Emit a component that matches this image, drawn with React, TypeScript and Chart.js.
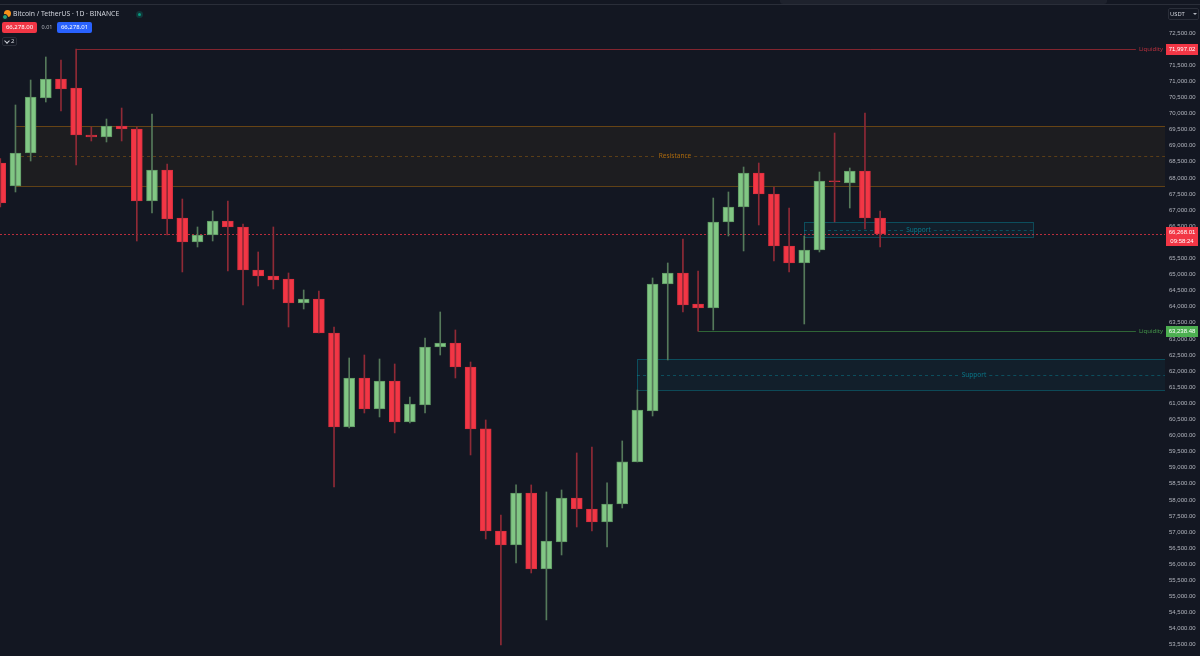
import React, { useEffect, useRef } from 'react';
import { Chart, registerables } from 'chart.js';

Chart.register(...registerables);

// ---- Candle data (BTC/USDT, 1D) ----
const opens = [
  68462, 67748, 68773, 70481, 71071, 70792, 69332, 69270, 69612, 69518,
  67282, 68245, 66754, 66009, 66226, 66661, 66475, 65140, 64953, 64860,
  64115, 64239, 63183, 60264, 61785, 60822, 61692, 60419, 60946, 62748,
  62873, 62127, 60202, 57033, 56598, 58214, 55853, 56691, 58058, 57717,
  57313, 57872, 59177, 60760, 64705, 65046, 64083, 63959, 66630, 67096,
  68152, 67500, 65885, 65357, 65761, 67910, 67841, 68214, 66754,
];
const highs = [
  68600, 70264, 71040, 71755, 71661, 71997.02, 69580, 69829, 70170, 69580,
  69984, 68431, 67344, 66475, 66972, 67282, 66568, 65699, 66475, 65046,
  64518, 64487, 63369, 62406, 62499, 62375, 62220, 61195, 63027, 63835,
  63276, 62282, 60481, 57530, 58463, 58463, 58245, 58307, 59456, 59642,
  58525, 59829, 61412, 64891, 65357, 66102, 65109, 67375, 67562, 68338,
  68462, 67717, 67065, 66195, 68183, 69394, 68307, 70015, 66972,
];
const lows = [
  67100, 67562, 68524, 70357, 70077, 68400, 69146, 69115, 69146, 66040,
  66910, 66226, 65078, 65854, 66040, 65109, 64052, 64643, 64549, 63369,
  63928, 63183, 58401, 60233, 60698, 60574, 60078, 60388, 60698, 62499,
  61785, 59394, 56785, 53494, 56040, 55729, 54270, 56288, 57157, 57033,
  56536, 57748, 59177, 60605, 62344, 63835, 63238.48, 63276, 66195, 65730,
  66537, 65419, 65078, 63462, 65699, 66630, 67065, 66413, 65854,
];
const closes = [
  67220, 68773, 70512, 71071, 70761, 69332, 69270, 69612, 69518, 67282,
  68245, 66723, 66009, 66226, 66661, 66475, 65140, 64953, 64829, 64115,
  64239, 63183, 60264, 61785, 60822, 61692, 60419, 60978, 62748, 62873,
  62127, 60202, 57033, 56598, 58214, 55853, 56722, 58058, 57717, 57313,
  57872, 59177, 60791, 64705, 65046, 64052, 63959, 66630, 67096, 68152,
  67500, 65885, 65357, 65761, 67903, 67880, 68214, 66754, 66268.01,
];

// ---- Price axis ticks ----
const yTicks = [
  53500, 54000, 54500, 55000, 55500, 56000, 56500, 57000, 57500, 58000,
  58500, 59000, 59500, 60000, 60500, 61000, 61500, 62000, 62500, 63000,
  63500, 64000, 64500, 65000, 65500, 66000, 66500, 67000, 67500, 68000,
  68500, 69000, 69500, 70000, 70500, 71000, 71500, 72000, 72500,
];

// ---- Drawn zones (bar index range, price range) ----
const zoneNames = ['Resistance', 'Support', 'Support'];
const zoneKinds = ['resistance', 'support', 'support'];
const zoneFrom = [1, 53, 42];
const zoneTo = [88, 68.1, 86.4];
const zoneHigh = [69620, 66630, 62375];
const zoneLow = [67748, 66164, 61412];

// ---- Liquidity levels ----
const liquidityLevels = [71997.02, 63238.48];
const liquidityFrom = [5, 46];
const liquidityKinds = ['sell', 'buy'];

// ---- Last price / header ----
const lastPrice = 66268.01;
const countdown = '09:58:24';
const symbolTitle = 'Bitcoin / TetherUS · 1D · BINANCE';
const bidText = '66,278.00';
const spreadText = '0.01';
const askText = '66,278.01';
const currencyText = 'USDT';

const BG = '#131722';
const UP = '#81c784';
const DOWN = '#f23645';
const UP_BORDER = '#5f9763';
const DOWN_BORDER = '#d8303f';
const UP_WICK = '#55795a';
const DOWN_WICK = '#8f2a36';
const FONT = '"Noto Sans", "DejaVu Sans", sans-serif';
const AXIS_FONT = '"Liberation Sans", Arial, sans-serif';

const fmt = (v: number) =>
  v.toLocaleString('en-US', { minimumFractionDigits: 2, maximumFractionDigits: 2 });

const overlayPlugin = {
  id: 'tvOverlay',
  beforeDatasetsDraw(chart: any) {
    const { ctx, chartArea: a, scales } = chart;
    const xs = scales.x;
    const ys = scales.y;
    ctx.save();
    ctx.beginPath();
    ctx.rect(a.left, a.top, a.right - a.left, a.bottom - a.top);
    ctx.clip();
    ctx.font = `6.5px ${FONT}`;
    ctx.textBaseline = 'middle';

    zoneNames.forEach((name, k) => {
      const res = zoneKinds[k] === 'resistance';
      const x0 = Math.round(xs.getPixelForValue(zoneFrom[k]));
      const x1 = Math.round(xs.getPixelForValue(zoneTo[k]));
      const y0 = Math.round(ys.getPixelForValue(zoneHigh[k]));
      const y1 = Math.round(ys.getPixelForValue(zoneLow[k]));
      const ym = Math.round((y0 + y1) / 2) + 0.5;
      ctx.fillStyle = res ? 'rgba(255,152,0,0.045)' : 'rgba(0,188,212,0.05)';
      ctx.fillRect(x0, y0, x1 - x0, y1 - y0);
      ctx.setLineDash([]);
      ctx.lineWidth = 1;
      ctx.strokeStyle = res ? 'rgba(255,152,0,0.33)' : 'rgba(0,188,212,0.3)';
      ctx.strokeRect(x0 + 0.5, y0 + 0.5, x1 - x0, y1 - y0);
      const cx = (x0 + x1) / 2;
      const tw = ctx.measureText(name).width;
      ctx.setLineDash([3, 3]);
      ctx.strokeStyle = res ? 'rgba(255,152,0,0.28)' : 'rgba(0,188,212,0.3)';
      ctx.beginPath();
      ctx.moveTo(x0, ym);
      ctx.lineTo(cx - tw / 2 - 3, ym);
      ctx.moveTo(cx + tw / 2 + 3, ym);
      ctx.lineTo(x1, ym);
      ctx.stroke();
      ctx.setLineDash([]);
      ctx.fillStyle = res ? 'rgba(255,152,0,0.62)' : 'rgba(0,188,212,0.55)';
      ctx.textAlign = 'center';
      ctx.fillText(name, cx, ym);
    });

    liquidityLevels.forEach((p, k) => {
      const sell = liquidityKinds[k] === 'sell';
      const y = Math.round(ys.getPixelForValue(p)) + 0.5;
      const x0 = xs.getPixelForValue(liquidityFrom[k]);
      const tx = a.right - 2;
      ctx.font = `6px ${FONT}`;
      const tw = ctx.measureText('Liquidity').width;
      ctx.strokeStyle = sell ? '#82252f' : '#2f6536';
      ctx.lineWidth = 1;
      ctx.beginPath();
      ctx.moveTo(x0, y);
      ctx.lineTo(tx - tw - 3, y);
      ctx.stroke();
      ctx.fillStyle = sell ? '#b9303d' : '#45964a';
      ctx.textAlign = 'right';
      ctx.fillText('Liquidity', tx, y);
    });

    const ly = Math.round(ys.getPixelForValue(lastPrice)) + 0.5;
    ctx.strokeStyle = 'rgba(242,54,69,0.75)';
    ctx.setLineDash([2, 2]);
    ctx.beginPath();
    ctx.moveTo(a.left, ly);
    ctx.lineTo(a.right, ly);
    ctx.stroke();
    ctx.setLineDash([]);
    ctx.restore();
  },
  afterDraw(chart: any) {
    const { ctx, chartArea: a, scales } = chart;
    const ys = scales.y;
    const left = a.right + 1;
    const right = chart.width - 2;
    const cx = (left + right) / 2;
    ctx.save();
    ctx.font = `6px ${AXIS_FONT}`;
    ctx.textAlign = 'center';
    ctx.textBaseline = 'middle';
    liquidityLevels.forEach((p, k) => {
      const sell = liquidityKinds[k] === 'sell';
      const y = Math.round(ys.getPixelForValue(p));
      ctx.fillStyle = sell ? DOWN : '#4caf50';
      ctx.fillRect(left, y - 5, right - left, 11);
      ctx.fillStyle = '#ffffff';
      ctx.fillText(fmt(p), cx, y + 0.5);
    });
    const y = Math.round(ys.getPixelForValue(lastPrice));
    ctx.fillStyle = DOWN;
    ctx.fillRect(left, y - 7, right - left, 19);
    ctx.fillStyle = '#ffffff';
    ctx.fillText(fmt(lastPrice), cx, y - 2);
    ctx.fillText(countdown, cx, y + 7);
    ctx.restore();
  },
};

export default function App() {
  const canvasRef = useRef<HTMLCanvasElement | null>(null);

  useEffect(() => {
    document.body.style.margin = '0';
    document.body.style.background = BG;
    const canvas = canvasRef.current;
    if (!canvas) return;
    const idx = opens.map((_, i) => i);
    const isUp = (i: number) => closes[i] >= opens[i];
    const chart = new Chart(canvas, {
      type: 'bar',
      data: {
        datasets: [
          {
            label: 'wicks',
            data: idx.map((i) => ({ x: i, y: [lows[i], highs[i]] })) as any,
            backgroundColor: idx.map((i) => (isUp(i) ? UP_WICK : DOWN_WICK)),
            borderWidth: 0,
            barThickness: 1,
            grouped: false,
          } as any,
          {
            label: 'bodies',
            data: idx.map((i) => ({ x: i, y: [opens[i], closes[i]] })) as any,
            backgroundColor: idx.map((i) => (isUp(i) ? UP : DOWN)),
            borderColor: idx.map((i) => (isUp(i) ? UP_BORDER : DOWN_BORDER)),
            borderWidth: 1,
            borderSkipped: false,
            barThickness: 11,
            grouped: false,
          } as any,
        ],
      },
      options: {
        animation: false,
        responsive: false,
        devicePixelRatio: 1,
        layout: { padding: 0 },
        plugins: { legend: { display: false }, tooltip: { enabled: false } },
        scales: {
          x: {
            type: 'linear',
            min: -0.02,
            max: 76.78,
            offset: false,
            display: false,
            grid: { display: false },
          },
          y: {
            position: 'right',
            min: 53150,
            max: 73525,
            grid: { display: false, drawTicks: false },
            border: { display: false },
            afterBuildTicks: (s: any) => {
              s.ticks = yTicks.map((v) => ({ value: v }));
            },
            afterFit: (s: any) => {
              s.width = 35;
              s.paddingTop = 0;
              s.paddingBottom = 0;
            },
            ticks: {
              color: '#b2b5be',
              font: { size: 6, family: AXIS_FONT },
              crossAlign: 'near',
              padding: 4,
              autoSkip: false,
              callback: (v: any) => fmt(Number(v)),
            },
          } as any,
        },
      } as any,
      plugins: [overlayPlugin],
    });
    return () => chart.destroy();
  }, []);

  const txt: React.CSSProperties = { position: 'absolute', fontFamily: FONT, whiteSpace: 'nowrap' };

  return (
    <div
      style={{
        position: 'fixed',
        left: 0,
        top: 0,
        width: 1200,
        height: 656,
        background: BG,
        overflow: 'hidden',
      }}
    >
      <canvas ref={canvasRef} width={1200} height={656} style={{ display: 'block', position: 'absolute', left: 0, top: 0 }} />
      {/* top toolbar edge */}
      <div style={{ position: 'absolute', left: 0, top: 4, width: 1200, height: 1, background: '#2a2e39' }} />
      <div style={{ position: 'absolute', left: 780, top: 0, width: 327, height: 4, background: '#1e222d', borderRadius: '0 0 3px 3px' }} />
      {/* symbol icon */}
      <div style={{ position: 'absolute', left: 4, top: 10, width: 7, height: 7, borderRadius: '50%', background: '#f7931a' }} />
      <div style={{ position: 'absolute', left: 2, top: 14, width: 4, height: 4, borderRadius: '50%', background: '#26a17b', border: '0.5px solid ' + BG }} />
      <div style={{ ...txt, left: 13, top: 9, fontSize: 6.8, color: '#d1d4dc', lineHeight: '10px' }}>{symbolTitle}</div>
      <div style={{ position: 'absolute', left: 136, top: 11, width: 7, height: 7, borderRadius: '50%', background: 'rgba(8,153,129,0.25)' }} />
      <div style={{ position: 'absolute', left: 138, top: 13, width: 3, height: 3, borderRadius: '50%', background: '#089981' }} />
      {/* bid / spread / ask */}
      <div style={{ ...txt, left: 2, top: 22, width: 35, height: 11, background: DOWN, borderRadius: 2, color: '#fff', fontSize: 6, lineHeight: '11px', textAlign: 'center' }}>{bidText}</div>
      <div style={{ ...txt, left: 41, top: 22, width: 12, height: 11, color: '#b2b5be', fontSize: 5.5, lineHeight: '11px', textAlign: 'center' }}>{spreadText}</div>
      <div style={{ ...txt, left: 57, top: 22, width: 35, height: 11, background: '#2962ff', borderRadius: 2, color: '#fff', fontSize: 6, lineHeight: '11px', textAlign: 'center' }}>{askText}</div>
      {/* collapse indicator */}
      <div style={{ position: 'absolute', left: 2, top: 37, width: 15, height: 9, border: '1px solid #2a2e39', borderRadius: 2, boxSizing: 'border-box' }} />
      <div style={{ position: 'absolute', left: 5, top: 39, width: 3, height: 3, borderRight: '1px solid #d1d4dc', borderBottom: '1px solid #d1d4dc', transform: 'rotate(45deg)' }} />
      <div style={{ ...txt, left: 11, top: 37, fontSize: 6, color: '#d1d4dc', lineHeight: '9px' }}>2</div>
      {/* currency box */}
      <div style={{ position: 'absolute', left: 1168, top: 8, width: 31, height: 12, border: '1px solid #2a2e39', borderRadius: 2, boxSizing: 'border-box' }} />
      <div style={{ ...txt, left: 1170, top: 8, fontSize: 5.8, color: '#d1d4dc', lineHeight: '12px' }}>{currencyText}</div>
      <div style={{ position: 'absolute', left: 1193, top: 13, width: 0, height: 0, borderLeft: '2px solid transparent', borderRight: '2px solid transparent', borderTop: '2px solid #b2b5be' }} />
    </div>
  );
}
